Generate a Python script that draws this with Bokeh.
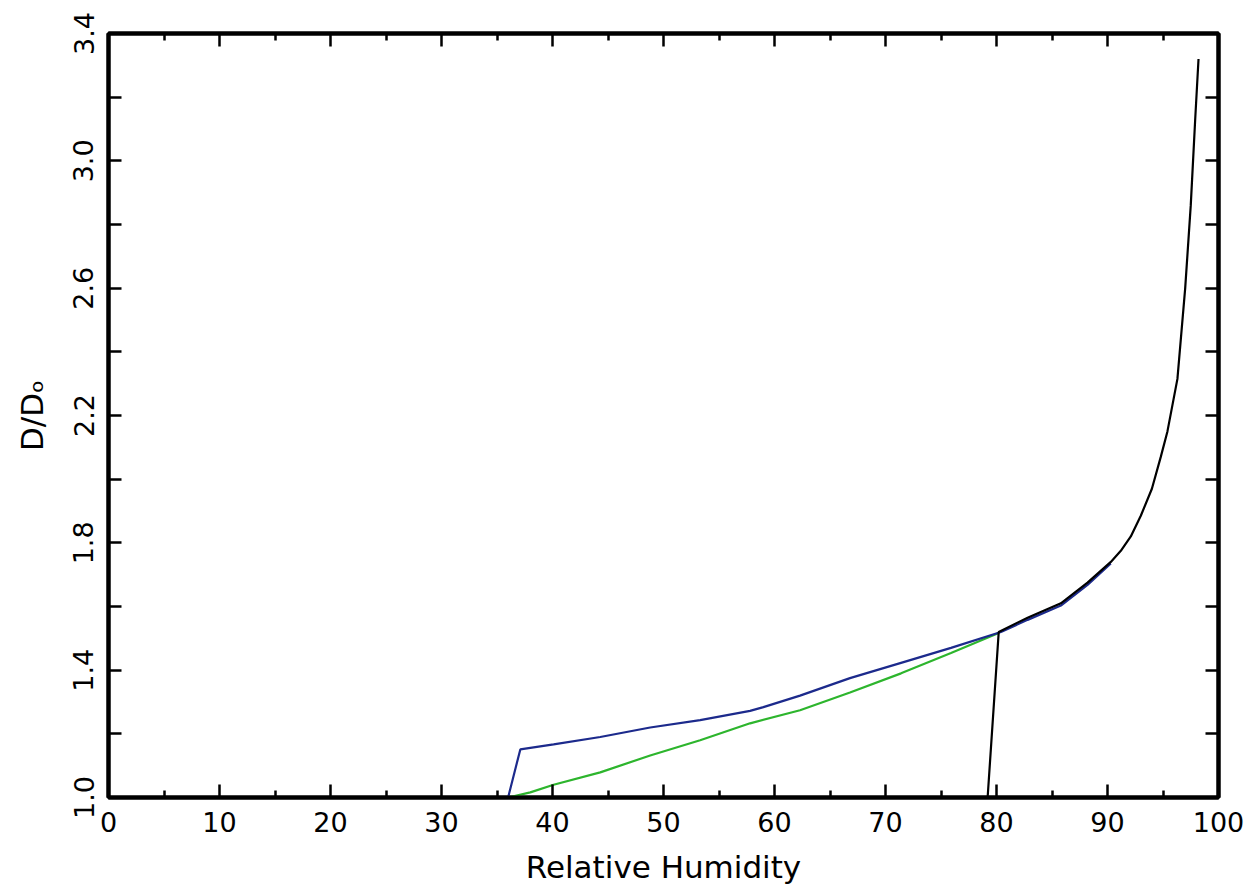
import math
from bokeh.plotting import figure
from bokeh.models import (Range1d, LinearAxis, FixedTicker, PrintfTickFormatter)
from bokeh.embed import file_html
from bokeh.resources import INLINE

# ---- data ----
blue_x = [36.0, 37.1, 40.1, 44.3, 48.8, 53.3, 57.8, 59.0, 62.3, 66.8, 71.4, 75.9, 80.4, 82.8, 85.8, 88.2, 90.3]
blue_y = [1.0, 1.151, 1.167, 1.19, 1.22, 1.243, 1.272, 1.284, 1.32, 1.375, 1.423, 1.47, 1.52, 1.558, 1.603, 1.668, 1.735]

green_x = [36.0, 38.0, 40.1, 44.3, 48.8, 53.3, 57.8, 62.3, 66.8, 71.4, 75.9, 80.2]
green_y = [1.0, 1.016, 1.04, 1.079, 1.132, 1.18, 1.233, 1.274, 1.33, 1.39, 1.454, 1.517]

black_x = [79.2, 80.2, 82.8, 85.8, 88.2, 90.3, 91.2, 92.1, 93.0, 94.0, 94.8, 95.4, 96.3, 97.0, 97.5, 97.9, 98.2]
black_y = [1.0, 1.52, 1.565, 1.61, 1.675, 1.74, 1.775, 1.82, 1.885, 1.97, 2.07, 2.15, 2.315, 2.6, 2.86, 3.13, 3.32]

x_major = [0, 10, 20, 30, 40, 50, 60, 70, 80, 90, 100]
x_minor = [5, 15, 25, 35, 45, 55, 65, 75, 85, 95]
y_major = [1.0, 1.4, 1.8, 2.2, 2.6, 3.0, 3.4]
y_minor = [1.2, 1.6, 2.0, 2.4, 2.8, 3.2]

x_label = "Relative Humidity"
y_label = "D/D\u2092"

FONT = "DejaVu Sans"

p = figure(width=1250, height=893, output_backend="svg", toolbar_location=None,
           x_range=Range1d(0, 100), y_range=Range1d(1.0, 3.4),
           x_axis_location=None, y_axis_location=None,
           min_border_left=108, min_border_right=32, min_border_top=33, min_border_bottom=96)
p.grid.visible = False
p.outline_line_color = "black"
p.outline_line_width = 4
p.background_fill_color = "white"
p.border_fill_color = "white"


def style_axis(ax, horizontal, labels):
    if horizontal:
        ax.ticker = FixedTicker(ticks=x_major, minor_ticks=x_minor)
        ax.major_tick_in = 13
        ax.minor_tick_in = 7
        ticks = x_major
    else:
        ax.ticker = FixedTicker(ticks=y_major, minor_ticks=y_minor)
        ax.major_tick_in = 13
        ax.minor_tick_in = 13
        ticks = y_major
    ax.major_tick_out = 0
    ax.minor_tick_out = 0
    ax.axis_line_width = 4
    ax.axis_line_color = "black"
    ax.major_tick_line_width = 2.5
    ax.minor_tick_line_width = 2.5
    if labels:
        ax.major_label_text_font = FONT
        ax.major_label_text_font_size = "27px"
        ax.major_label_text_color = "black"
        ax.axis_label_text_font = FONT
        ax.axis_label_text_font_size = "31px"
        ax.axis_label_text_font_style = "normal"
        ax.axis_label_text_color = "black"
    else:
        ax.major_label_overrides = {t: "" for t in ticks}
        ax.major_label_standoff = 0


bottom = LinearAxis(axis_label=x_label)
style_axis(bottom, True, True)
bottom.major_label_standoff = 14
bottom.axis_label_standoff = 14
p.add_layout(bottom, "below")

left = LinearAxis(axis_label=y_label, formatter=PrintfTickFormatter(format="%.1f"))
style_axis(left, False, True)
left.major_label_orientation = "parallel"
left.major_label_standoff = 15
left.axis_label_standoff = 21
p.add_layout(left, "left")

top = LinearAxis()
style_axis(top, True, False)
p.add_layout(top, "above")

right = LinearAxis()
style_axis(right, False, False)
p.add_layout(right, "right")

p.line(green_x, green_y, line_color="#2db52d", line_width=2.2)
p.line(blue_x, blue_y, line_color="#1c2a8c", line_width=2.2)
p.line(black_x, black_y, line_color="black", line_width=2.2)

open("out.html", "w").write(file_html(p, INLINE))
